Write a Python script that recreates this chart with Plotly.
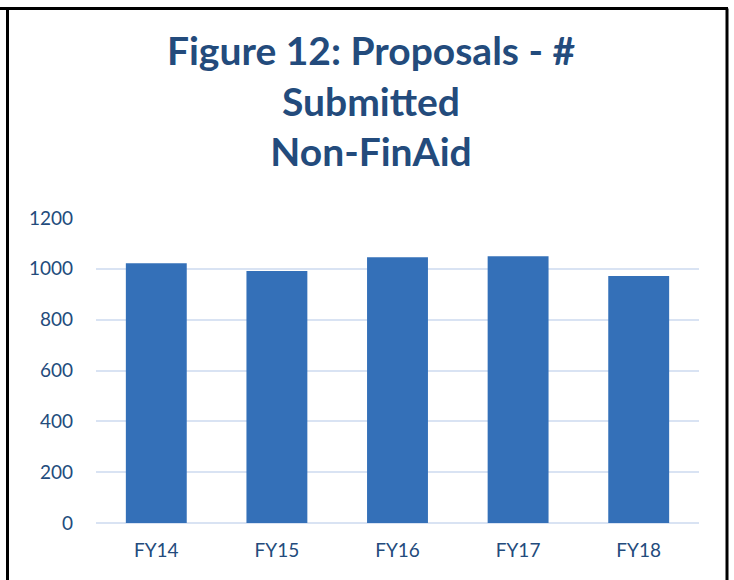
import plotly.graph_objects as go

categories = ["FY14", "FY15", "FY16", "FY17", "FY18"]
submitted = [1022, 991, 1046, 1050, 972]
y_ticks = [0, 200, 400, 600, 800, 1000, 1200]

title_lines = ["Figure 12: Proposals - #", "Submitted", "Non-FinAid"]

W, H = 734, 580
L, R, T, B = 96, 35, 218, 57
pw, ph = W - L - R, H - T - B

def px_x(px):
    return (px - L) / pw

def px_y(py):
    return (H - B - py) / ph

fig = go.Figure()
fig.add_trace(go.Bar(
    x=categories, y=submitted,
    marker=dict(color="#3470B8", line=dict(width=0)),
    width=0.505,
))

text_col = "#234B7C"
fig.update_layout(
    width=W, height=H,
    margin=dict(l=L, r=R, t=T, b=B),
    paper_bgcolor="white", plot_bgcolor="white",
    showlegend=False,
    title=dict(
        text="<br>".join(title_lines),
        font=dict(family="Lato", size=39, color=text_col, weight="bold"),
        x=371 / W, xanchor="center",
        y=1 - 65 / H, yanchor="top", yref="container",
    ),
    xaxis=dict(
        showgrid=False, showline=False, ticks="",
        tickfont=dict(family="Lato", size=19, color=text_col),
        ticklabelstandoff=14,
    ),
    yaxis=dict(
        range=[0, 1200], tickvals=y_ticks,
        showgrid=True, gridcolor="#D9E3F3", gridwidth=1.5,
        zeroline=True, zerolinecolor="#D9E3F3", zerolinewidth=1.5,
        showline=False, ticks="",
        tickfont=dict(family="Lato", size=19, color=text_col),
        ticklabelstandoff=22,
    ),
    shapes=[
        dict(type="line", xref="paper", yref="paper",
             x0=px_x(0), x1=px_x(728), y0=px_y(8.5), y1=px_y(8.5),
             line=dict(color="black", width=3)),
        dict(type="line", xref="paper", yref="paper",
             x0=px_x(7.5), x1=px_x(7.5), y0=px_y(8.5), y1=px_y(590),
             line=dict(color="black", width=3)),
        dict(type="line", xref="paper", yref="paper",
             x0=px_x(727), x1=px_x(727), y0=px_y(8.5), y1=px_y(590),
             line=dict(color="black", width=3)),
    ],
)

fig.write_html("out.html",
               config={"displayModeBar": False},
               post_script="document.body.style.margin='0';document.body.style.padding='0';")
